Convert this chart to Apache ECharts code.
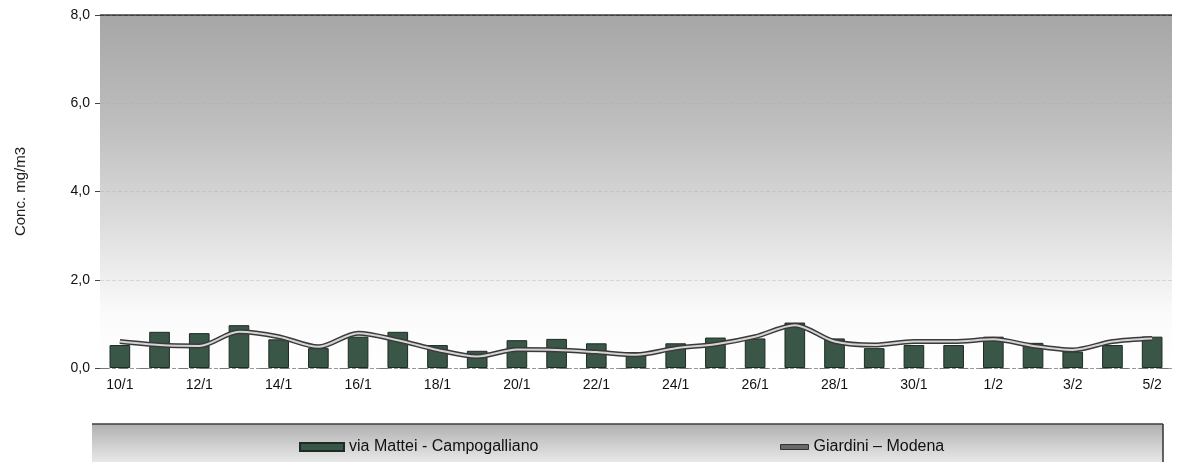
<!DOCTYPE html>
<html><head><meta charset="utf-8">
<script src="https://cdn.jsdelivr.net/npm/echarts@6/dist/echarts.min.js"></script>
<style>html,body{margin:0;padding:0;background:#fff}#c{width:1184px;height:462px}</style>
</head><body><div id="c"></div>
<script>
const categories = ['10/1','11/1','12/1','13/1','14/1','15/1','16/1','17/1','18/1','19/1','20/1','21/1','22/1','23/1','24/1','25/1','26/1','27/1','28/1','29/1','30/1','31/1','1/2','2/2','3/2','4/2','5/2'];
const campogalliano = [0.52,0.82,0.79,0.97,0.65,0.45,0.71,0.82,0.52,0.39,0.63,0.66,0.56,0.36,0.56,0.69,0.67,1.03,0.67,0.45,0.52,0.52,0.71,0.57,0.37,0.52,0.71];
const modena = [0.60,0.52,0.50,0.82,0.71,0.48,0.79,0.63,0.41,0.26,0.42,0.41,0.36,0.30,0.45,0.54,0.71,0.97,0.60,0.52,0.60,0.60,0.65,0.50,0.41,0.60,0.67];
const yTicks = [0,2,4,6,8];
const seriesNames = ['via Mattei - Campogalliano','Giardini \u2013 Modena'];

const chart = echarts.init(document.getElementById('c'));
const font = 'Liberation Sans, Arial, sans-serif';
chart.setOption({
  animation:false,
  grid:{left:100,right:12,top:15,bottom:94,show:true,borderWidth:0,
    backgroundColor:{type:'linear',x:0,y:0,x2:0,y2:1,colorStops:[
      {offset:0,color:'#a6a6a6'},{offset:0.3,color:'#bdbdbd'},{offset:0.55,color:'#d8d8d8'},
      {offset:0.72,color:'#ececec'},{offset:0.85,color:'#fbfbfb'},{offset:1,color:'#ffffff'}]}},
  legend:[
    {data:[{name:seriesNames[0],icon:'rect'}],left:299,top:439,padding:0,itemWidth:44,itemHeight:8,itemGap:5,
     textStyle:{fontFamily:font,fontSize:16,color:'#111'}},
    {data:[{name:seriesNames[1],icon:'rect',itemStyle:{color:'#6a6a6a',borderColor:'#333',borderWidth:1}}],left:780,top:439,padding:0,itemWidth:28,itemHeight:5,itemGap:3,
     textStyle:{fontFamily:font,fontSize:16,color:'#111'}}
  ],
  graphic:[
    {type:'rect',z:-10,shape:{x:92,y:424,width:1071,height:40},
     style:{fill:{type:'linear',x:0,y:0,x2:0,y2:1,colorStops:[{offset:0,color:'#b0b0b0'},{offset:1,color:'#ebebeb'}]}}},
    {type:'line',z:-9,shape:{x1:92,y1:424,x2:1163,y2:424},style:{stroke:'#3a403c',lineWidth:1.5}},
    {type:'line',z:-9,shape:{x1:1163,y1:424,x2:1163,y2:462},style:{stroke:'#333',lineWidth:1.5}}
  ],
  xAxis:{type:'category',data:categories,boundaryGap:true,
    axisLine:{show:true,lineStyle:{color:'#777',type:[8,12],width:1}},
    axisTick:{show:false},
    axisLabel:{interval:1,margin:10,fontFamily:font,fontSize:14,color:'#111'}},
  yAxis:{type:'value',min:yTicks[0],max:yTicks[yTicks.length-1],interval:2,
    name:'Conc. mg/m3',nameLocation:'middle',nameGap:72,
    nameTextStyle:{fontFamily:font,fontSize:15,color:'#222'},
    axisLine:{show:false},
    axisTick:{show:true,length:5,lineStyle:{color:'#444'}},
    splitLine:{show:true,lineStyle:{color:['#999','#d6d6d6','#c4c4c4','#b4b4b4','#3a403c'],type:'dashed',width:1}},
    axisLabel:{margin:10,fontFamily:font,fontSize:14,color:'#111',
      formatter:v=>v.toFixed(1).replace('.',',')}},
  series:[
    {name:seriesNames[0],type:'bar',data:campogalliano,barWidth:'52%',
     itemStyle:{color:'#3a5646',borderColor:'#1c2b23',borderWidth:1},
     markLine:{silent:true,symbol:'none',label:{show:false},lineStyle:{color:'#3a403c',type:'solid',width:1.5},
       data:[{yAxis:yTicks[yTicks.length-1]}]}},
    {name:seriesNames[1],type:'line',data:modena,smooth:0.3,symbol:'none',z:3,
     lineStyle:{color:'#3a3a3a',width:5},itemStyle:{color:'#6a6a6a'}},
    {name:'_inner',type:'line',data:modena,smooth:0.3,symbol:'none',z:4,silent:true,
     lineStyle:{color:'#d4d4d4',width:2}}
  ]
});
</script></body></html>
